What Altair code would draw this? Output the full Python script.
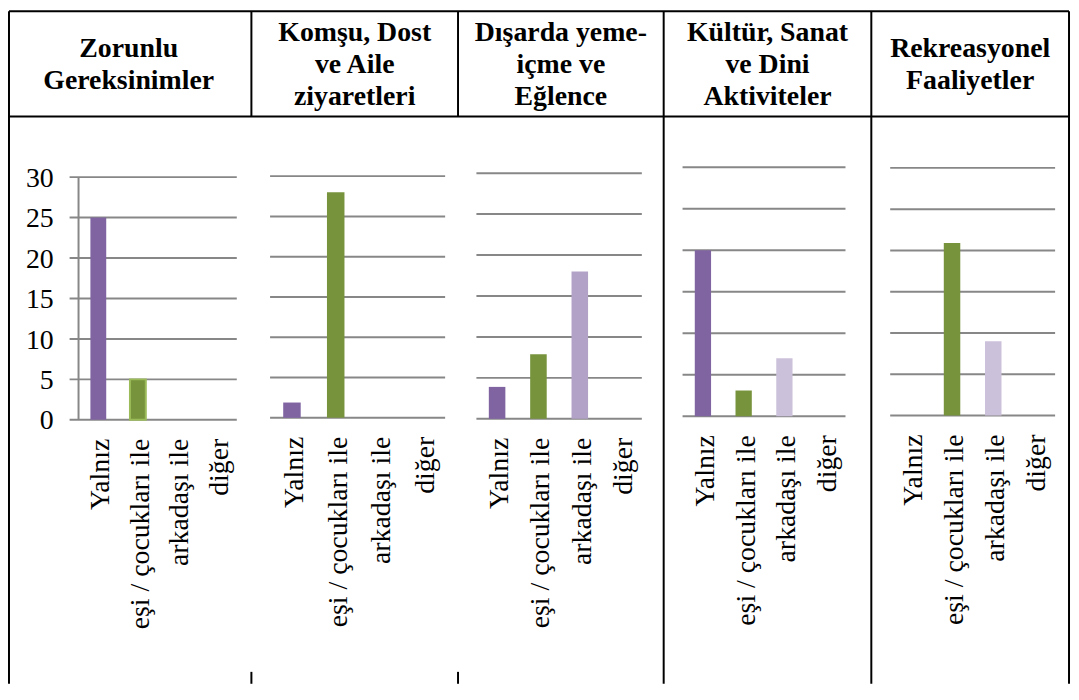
import altair as alt
import pandas as pd

# ---------------- data ----------------
categories = ["Yalnız", "eşi / çocukları ile", "arkadaşı ile", "diğer"]

header_zorunlu = ["Zorunlu", "Gereksinimler"]
header_komsu = ["Komşu, Dost", "ve Aile", "ziyaretleri"]
header_disarda = ["Dışarda yeme-", "içme ve", "Eğlence"]
header_kultur = ["Kültür, Sanat", "ve Dini", "Aktiviteler"]
header_rekreasyon = ["Rekreasyonel", "Faaliyetler"]

values_zorunlu = [25, 5, 0, 0]
values_komsu = [1.9, 28, 0, 0]
values_disarda = [3.9, 7.9, 18.0, 0]
values_kultur = [20, 3.1, 7.0, 0]
values_rekreasyon = [0, 20.9, 9.0, 0]

y_ticks = [0, 5, 10, 15, 20, 25, 30]

# ---------------- style / layout ----------------
PURPLE = "#8064A2"
GREEN = "#77933C"
GREEN_EDGE = "#9BBB59"
LILAC_DARK = "#B3A2C7"
LILAC_LIGHT = "#CCC1DA"
GRID = "#878787"
FONT = "Liberation Serif"

OFF = 8            # page margin
W, H = 1070, 678   # whole chart (page px minus margin)

col_edges = [6, 253, 461, 668, 877, 1076]               # page px
panel_x = [(79, 238.3), (271.8, 448), (479.5, 646), (687, 851), (896, 1062)]
panel_y = [(420.3, 176), (418.3, 175), (419.3, 172), (416.7, 166), (416, 166.7)]

panel_values = [values_zorunlu, values_komsu, values_disarda, values_kultur, values_rekreasyon]
panel_headers = [header_zorunlu, header_komsu, header_disarda, header_kultur, header_rekreasyon]
panel_third = [LILAC_DARK, LILAC_DARK, LILAC_DARK, LILAC_LIGHT, LILAC_LIGHT]


def panel(i):
    x0, x1 = panel_x[i]
    y0, y30 = panel_y[i]
    xs = alt.Scale(domain=categories, range=[x0 - OFF, x1 - OFF],
                   paddingInner=0.6, paddingOuter=0.3)
    ys = alt.Scale(domain=[0, 30], range=[y0 - OFF, y30 - OFF], nice=False, zero=True)

    fills = [PURPLE, GREEN, panel_third[i], PURPLE]
    edges = ["transparent"] * 4
    widths = [0, 0, 0, 0]
    if i == 0:
        edges[1] = GREEN_EDGE
        widths[1] = 2
    bars_df = pd.DataFrame({"cat": categories, "val": panel_values[i],
                            "fillc": fills, "edge": edges, "ew": widths})

    gx0 = 70 if i == 0 else x0
    grid = alt.Chart(pd.DataFrame({"tick": y_ticks})).mark_rule(
        color=GRID, strokeWidth=2
    ).encode(
        y=alt.Y("tick:Q", scale=ys, axis=None),
        x=alt.value(gx0 - OFF),
        x2=alt.value(x1 - OFF),
    )

    bars = alt.Chart(bars_df).mark_bar().encode(
        x=alt.X("cat:N", scale=xs, axis=None, sort=categories),
        y=alt.Y("val:Q", scale=ys, axis=None),
        fill=alt.Fill("fillc:N", scale=None),
        stroke=alt.Stroke("edge:N", scale=None),
        strokeWidth=alt.StrokeWidth("ew:Q", scale=None),
    )

    labels = alt.Chart(pd.DataFrame({"cat": categories})).mark_text(
        angle=270, align="right", baseline="alphabetic", dy=11,
        font=FONT, fontSize=28, color="black"
    ).encode(
        x=alt.X("cat:N", scale=xs, axis=None, sort=categories),
        y=alt.value(y0 + 19 - OFF),
        text="cat:N",
    )

    layers = [grid, bars, labels]
    if i == 0:
        axis_line = alt.Chart(pd.DataFrame({"a": [0]})).mark_rule(
            color=GRID, strokeWidth=2
        ).encode(
            x=alt.value(79 - OFF),
            y=alt.value(y30 - OFF),
            y2=alt.value(y0 - OFF),
        )
        ylabels = alt.Chart(pd.DataFrame({"tick": y_ticks})).mark_text(
            align="right", baseline="alphabetic", dy=9.7,
            font=FONT, fontSize=28, color="black"
        ).encode(
            y=alt.Y("tick:Q", scale=ys, axis=None),
            x=alt.value(54 - OFF),
            text="tick:Q",
        )
        layers += [axis_line, ylabels]
    return alt.layer(*layers)


# ---------------- table decoration ----------------
L = max(col_edges[0] - OFF, 1)
R = col_edges[-1] - OFF
T = 1
HB = 115 - OFF
lines = [
    (L, R, T, T),                 # top border
    (L, L, T, H),                 # left border
    (R, R, T, H),                 # right border
    (L, R, HB, HB),               # header bottom
]
for k in (1, 2):                  # partially hidden dividers
    x = col_edges[k] - OFF
    lines.append((x, x, T, HB))
    lines.append((x, x, 674 - OFF, H))
for k in (3, 4):                  # full dividers
    x = col_edges[k] - OFF
    lines.append((x, x, T, H))
lines_df = pd.DataFrame(lines, columns=["xa", "xb", "ya", "yb"])

table = alt.Chart(lines_df).mark_rule(color="black", strokeWidth=2).encode(
    x=alt.X("xa:Q", scale=None),
    x2="xb:Q",
    y=alt.Y("ya:Q", scale=None),
    y2="yb:Q",
)

head_rows = []
LINE_H = 32.2
for k, hl in enumerate(panel_headers):
    cx = (col_edges[k] + col_edges[k + 1]) / 2 - OFF
    n = len(hl)
    for j, t in enumerate(hl):
        by = 70.8 + (j - (n - 1) / 2) * LINE_H - OFF
        head_rows.append({"t": t, "hx": cx, "hy": by})
head_df = pd.DataFrame(head_rows)

headers = alt.Chart(head_df).mark_text(
    font=FONT, fontSize=28, fontWeight="bold", align="center",
    baseline="alphabetic", color="black"
).encode(
    x=alt.X("hx:Q", scale=None),
    y=alt.Y("hy:Q", scale=None),
    text="t:N",
)

chart = alt.layer(
    *[panel(i) for i in range(5)], table, headers
).resolve_scale(
    x="independent", y="independent"
).properties(
    width=W, height=H, padding=0,
    autosize=alt.AutoSizeParams(type="none"),
).configure(
    font=FONT
).configure_text(
    font=FONT
).configure_view(stroke=None)

chart.save("out.html", embed_options={"renderer": "svg", "actions": False})
